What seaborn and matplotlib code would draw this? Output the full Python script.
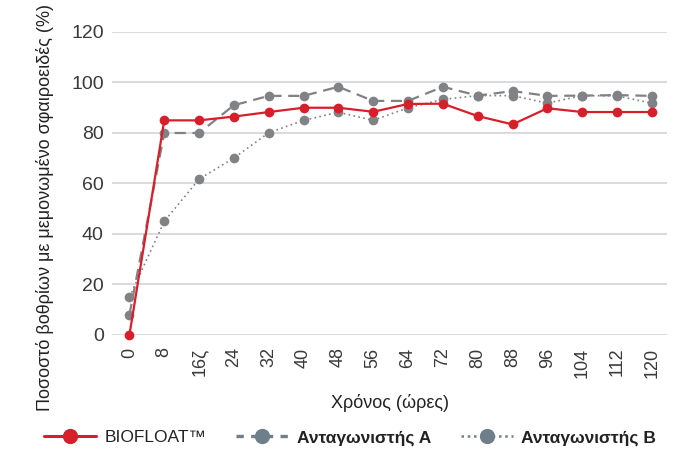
import pandas as pd
import numpy as np
import matplotlib
matplotlib.use("Agg")
import matplotlib.pyplot as plt
from matplotlib.lines import Line2D
import seaborn as sns

# data
hours = [0, 8, 16, 24, 32, 40, 48, 56, 64, 72, 80, 88, 96, 104, 112, 120]
hour_labels = ["0", "8", "16ζ", "24", "32", "40", "48", "56", "64", "72",
               "80", "88", "96", "104", "112", "120"]
biofloat = [0, 85, 85, 86.5, 88.3, 90, 90, 88.4, 91.5, 91.6, 86.7, 83.4, 89.8, 88.3, 88.3, 88.3]
comp_a = [8, 80, 80, 91, 94.7, 94.7, 98.3, 92.7, 92.7, 98.3, 94.8, 96.6, 94.7, 94.8, 95, 94.7]
comp_b = [15, 45, 61.7, 70.1, 80.1, 85, 88.2, 85, 90, 93.3, 94.8, 94.8, 91.8, 94.8, 94.7, 91.8]
series_names = ["BIOFLOAT™", "Ανταγωνιστής A", "Ανταγωνιστής B"]

df = pd.DataFrame({"hours": hours * 3,
                   "value": biofloat + comp_a + comp_b,
                   "series": np.repeat(series_names, len(hours))})

sns.set_theme(style="white")
plt.rcParams["font.family"] = ["Liberation Sans", "DejaVu Sans"]

red = "#d71f2b"
grey = "#808285"
slate = "#6f7f8a"

fig = plt.figure(figsize=(7, 4.5), dpi=100)
ax = fig.add_axes([0.16, 0.2556, 0.793, 0.6733])

styles = {
    series_names[0]: dict(color=red, linestyle="-", lw=1.6),
    series_names[1]: dict(color=grey, linestyle=(0, (5, 3)), lw=1.6),
    series_names[2]: dict(color=grey, linestyle=(0, (1, 2)), lw=1.2),
}
# draw greys first so red sits on top
for name in [series_names[2], series_names[1], series_names[0]]:
    st = styles[name]
    sns.lineplot(data=df[df["series"] == name], x="hours", y="value", ax=ax,
                 color=st["color"], linestyle=st["linestyle"], linewidth=st["lw"],
                 marker="o", markersize=7, markeredgewidth=0, legend=False,
                 clip_on=False)

ax.set_xlim(-4, 123.5)
ax.set_ylim(0, 120)
ax.set_yticks(range(0, 121, 20))
ax.set_xticks(hours)
ax.set_xticklabels(hour_labels, rotation=90, fontsize=13, color="#3a3a3a")
ax.tick_params(axis="y", labelsize=14, colors="#3a3a3a", length=0, pad=6)
ax.tick_params(axis="x", length=0, pad=9)
ax.grid(axis="y", color="#d3d3db", linewidth=1.2)
ax.grid(axis="x", visible=False)
sns.despine(ax=ax, left=True, bottom=True)

ax.set_xlabel("Χρόνος (ώρες)", fontsize=13, color="#222222", labelpad=12)
ax.set_ylabel("Ποσοστό βοθρίων με μεμονωμένο σφαιροειδές (%)", fontsize=13,
              color="#222222")
ax.yaxis.set_label_coords(-0.105, 0.42)

handles = [
    Line2D([], [], color=red, lw=2.2, marker="o", markersize=11, markeredgewidth=0),
    Line2D([], [], color=slate, lw=2.4, linestyle=(0, (2.2, 2.2)), marker="o",
           markersize=11, markeredgewidth=0),
    Line2D([], [], color=slate, lw=1.8, linestyle=(0, (1, 1.5)), marker="o",
           markersize=11, markeredgewidth=0),
]
leg = fig.legend(handles, series_names, loc="lower center", ncol=3,
                 bbox_to_anchor=(0.5, -0.025), frameon=False, fontsize=12.5,
                 handlelength=3.0, columnspacing=1.7, handletextpad=0.5)
for i, t in enumerate(leg.get_texts()):
    t.set_color("#222222")
    if i > 0:
        t.set_fontweight("bold")

fig.savefig("out.png", dpi=100)
